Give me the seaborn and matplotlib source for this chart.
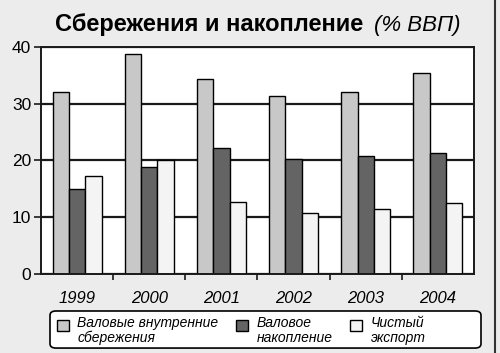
import pandas as pd
import matplotlib.pyplot as plt
import seaborn as sns
from matplotlib.lines import Line2D
from matplotlib.patches import FancyBboxPatch

# data (% of GDP)
years = ['1999', '2000', '2001', '2002', '2003', '2004']
series_names = ['Валовые внутренние\nсбережения', 'Валовое\nнакопление', 'Чистый\nэкспорт']
gross_savings = [32.0, 38.8, 34.3, 31.3, 32.0, 35.4]
gross_accumulation = [14.9, 18.9, 22.2, 20.3, 20.7, 21.3]
net_export = [17.2, 20.0, 12.7, 10.8, 11.4, 12.5]
colors = ['#c8c8c8', '#646464', '#f4f4f4']

rows = []
for name, vals in zip(series_names, [gross_savings, gross_accumulation, net_export]):
    for y, v in zip(years, vals):
        rows.append({'Год': y, 'Показатель': name, 'Значение': v})
df = pd.DataFrame(rows)

sns.set_theme(style='white')
plt.rcParams['font.family'] = ['Liberation Sans', 'DejaVu Sans']
plt.rcParams['text.color'] = 'black'
plt.rcParams['xtick.color'] = 'black'
plt.rcParams['ytick.color'] = 'black'
bg = '#ececec'

fig = plt.figure(figsize=(5.0, 3.53), dpi=100, facecolor=bg)
ax = fig.add_axes([0.082, 0.224, 0.866, 0.643])
ax.set_facecolor('white')

sns.barplot(data=df, x='Год', y='Значение', hue='Показатель', palette=colors,
            width=0.68, gap=0, edgecolor='black', linewidth=1.0, ax=ax,
            saturation=1, legend=False)

ax.set_ylim(0, 40)
ax.set_xlim(-0.5, 5.5)
ax.set_yticks([0, 10, 20, 30, 40])
ax.yaxis.grid(True, color='#1a1a1a', linewidth=1.6)
ax.xaxis.grid(False)
ax.set_axisbelow(True)
for s in ax.spines.values():
    s.set_color('#1a1a1a')
    s.set_linewidth(1.4)
ax.set_xlabel('')
ax.set_ylabel('')
ax.tick_params(axis='y', left=True, length=5, width=1.2, color='#1a1a1a',
               labelsize=12.5, pad=2, labelcolor='black')
ax.tick_params(axis='x', bottom=False, labelsize=12, pad=6, labelcolor='black')
for lab in ax.get_xticklabels():
    lab.set_fontstyle('italic')
ax.set_xticks([i + 0.5 for i in range(5)], minor=True)
ax.tick_params(axis='x', which='minor', bottom=True, length=4, width=1.2,
               color='#1a1a1a')

# title: bold part plus italic part
fig.text(0.726, 0.912, 'Сбережения и накопление', ha='right', va='baseline',
         fontsize=17, fontweight='bold', color='black')
fig.text(0.748, 0.912, '(% ВВП)', ha='left', va='baseline',
         fontsize=16, fontstyle='italic', color='black')

# legend: rounded frame drawn separately, entries without frame
frame = FancyBboxPatch((0.1, 0.014), 0.862, 0.105,
                       boxstyle='round,pad=0,rounding_size=0.012',
                       transform=fig.transFigure, facecolor='white',
                       edgecolor='black', linewidth=1.2)
fig.add_artist(frame)

handles = [plt.Rectangle((0, 0), 1, 1, facecolor=c, edgecolor='black', linewidth=1)
           for c in colors]
leg = fig.legend(handles, series_names, ncol=3, loc='upper left',
                 bbox_to_anchor=(0.1, 0.125), frameon=False,
                 prop={'size': 10, 'style': 'italic'}, handlelength=0.85,
                 handleheight=0.85, handletextpad=0.6, columnspacing=1.3,
                 borderpad=0, labelspacing=0.2)
for t in leg.get_texts():
    t.set_linespacing(1.05)
# put the boxes level with the first line of each label
for h in leg.legend_handles:
    h.set_y(h.get_y() + 4.0)

# dark border on the right edge of the panel
fig.add_artist(Line2D([0.99, 0.99], [0, 1], color='#333333', linewidth=1.5,
                      transform=fig.transFigure))

fig.savefig('out.png', dpi=100, facecolor=bg)
